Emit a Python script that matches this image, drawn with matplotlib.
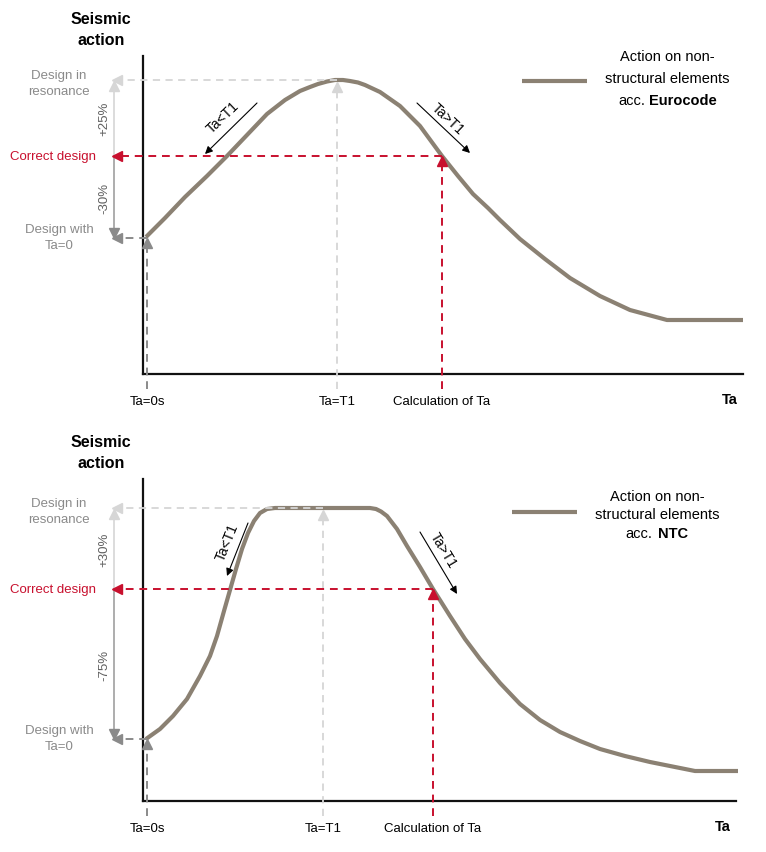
import numpy as np
import matplotlib.pyplot as plt

plt.rcParams['font.family'] = ['Liberation Sans', 'DejaVu Sans']

# curva eurocode (Ta, accion), unidades arbitrarias del esquema
ec_ta = [3, 22, 42, 64, 84, 104, 124, 142, 157, 167, 175, 184, 192, 200, 207, 215, 222,
         237, 257, 277, 299, 315, 330, 345, 357, 377, 402, 427, 457, 487, 524, 600]
ec_sa = [137, 156, 177, 198, 218, 239, 260, 274, 283, 287, 290, 292.5, 294, 294, 293, 291.5, 289,
         282, 268, 248, 218, 198, 180, 166, 154, 135, 115, 96, 78, 64, 54, 54]

# curva ntc
ntc_ta = [3, 17, 30, 44, 57, 67, 74, 81, 87, 93, 99, 105, 111, 117, 124, 132, 227,
          233, 238, 244, 254, 264, 277, 290, 307, 322, 337, 357, 377, 397, 417, 437, 457,
          482, 507, 532, 552, 595]
ntc_sa = [62, 72, 85, 102, 125, 145, 165, 190, 211, 232, 252, 268, 280, 288, 292, 293, 293,
          292, 289.5, 285, 272, 255, 234, 212, 185, 162, 142, 118, 97, 81, 69, 60, 52,
          45, 39, 34, 30, 30]

# niveles de referencia: (Ta=0, T1, Ta calculado) y (accion Ta=0, correcta, resonancia)
ec_t = [4, 194, 299]
ec_lvl = [136, 218, 294]
ntc_t = [4, 180, 290]
ntc_lvl = [62, 212, 293]

ec_pct = ["+25%", "-30%"]
ntc_pct = ["+30%", "-75%"]
tick_labels = ["Ta=0s", "Ta=T1", "Calculation of Ta"]

CURVE = '#8b8173'
LIGHT = '#d6d6d6'
GRAY = '#8a8a8a'
RED = '#c8102e'

W, H = 766, 853
fig = plt.figure(figsize=(W / 100, H / 100), dpi=100)


def panel(box, ta, sa, t, lvl, pct, code, legend_pos, arrows):
    left, top, right, bottom = box
    ax = fig.add_axes([left / W, 1 - bottom / H, (right - left) / W, (bottom - top) / H])
    ax.set_xlim(0, right - left)
    ax.set_ylim(0, bottom - top)
    for s in ['top', 'right']:
        ax.spines[s].set_visible(False)
    for s in ['left', 'bottom']:
        ax.spines[s].set_linewidth(1.6)
        ax.spines[s].set_color('#111111')
    ax.set_xticks([])
    ax.set_yticks([])
    ax.patch.set_alpha(0)

    t0, t1, tc = t
    y0, yc, yr = lvl
    xm = -29
    dash = (0, (4, 3))

    # curva
    ax.plot(ta, sa, color=CURVE, lw=3, solid_capstyle='butt', solid_joinstyle='round',
            zorder=3, clip_on=False)

    # lineas de resonancia
    ax.plot([t1, xm + 2], [yr, yr], color=LIGHT, lw=1.3, ls=dash, zorder=4, clip_on=False)
    ax.plot([t1, t1], [-15, yr - 6], color=LIGHT, lw=1.3, ls=dash, zorder=4, clip_on=False)
    ax.plot([xm + 3], [yr], marker='<', ms=7, color=LIGHT, clip_on=False, zorder=5)
    ax.plot([t1], [yr - 7], marker='^', ms=7, color=LIGHT, clip_on=False, zorder=5)

    # diseno correcto
    ax.plot([tc, xm + 2], [yc, yc], color=RED, lw=1.4, ls=dash, zorder=4, clip_on=False)
    ax.plot([tc, tc], [-15, yc - 6], color=RED, lw=1.4, ls=dash, zorder=4, clip_on=False)
    ax.plot([xm + 3], [yc], marker='<', ms=7, color=RED, clip_on=False, zorder=5)
    ax.plot([tc], [yc - 5], marker='^', ms=7, color=RED, clip_on=False, zorder=5)

    # diseno con Ta=0
    ax.plot([t0, xm + 2], [y0, y0], color=GRAY, lw=1.4, ls=dash, zorder=4, clip_on=False)
    ax.plot([t0, t0], [-15, y0 - 6], color=GRAY, lw=1.4, ls=dash, zorder=4, clip_on=False)
    ax.plot([xm + 3], [y0], marker='<', ms=7, color=GRAY, clip_on=False, zorder=5)
    ax.plot([t0], [y0 - 5], marker='^', ms=7, color=GRAY, clip_on=False, zorder=5)

    # cota vertical
    ax.plot([xm, xm], [yr - 6, yc], color=LIGHT, lw=1.2, clip_on=False)
    ax.plot([xm, xm], [yc, y0 + 6], color='#a0a0a0', lw=1.2, clip_on=False)
    ax.plot([xm], [yr - 6], marker='^', ms=7, color=LIGHT, clip_on=False)
    ax.plot([xm], [y0 + 5], marker='v', ms=7, color=GRAY, clip_on=False)
    ax.text(xm - 10, (yr + yc) / 2, pct[0], rotation=90, ha='center', va='center',
            fontsize=9.5, color='#606060')
    ax.text(xm - 10, (yc + y0) / 2, pct[1], rotation=90, ha='center', va='center',
            fontsize=9.5, color='#606060')

    # textos a la izquierda
    ax.text(-84, yr - 3, "Design in\nresonance", ha='center', va='center', fontsize=9.5,
            color=GRAY, linespacing=1.35)
    ax.text(-47, yc, "Correct design", ha='right', va='center', fontsize=9.5, color=RED)
    ax.text(-84, y0 + 1, "Design with\nTa=0", ha='center', va='center', fontsize=9.5,
            color=GRAY, linespacing=1.35)
    ax.text(-42, (bottom - top) + 27, "Seismic\naction", ha='center', va='center',
            fontsize=11.5, fontweight='bold', linespacing=1.55)

    # etiquetas del eje x
    for x, lab in zip(t, tick_labels):
        ax.text(x, -27, lab, ha='center', va='center', fontsize=9.5)
    ax.text(right - left - 13, -25, "Ta", ha='center', va='center', fontsize=10.5,
            fontweight='bold')

    # flechas Ta<T1 / Ta>T1
    for (xa, ya, xb, yb, xt, yt, rot, lab) in arrows:
        ax.annotate("", xy=(xb, yb), xytext=(xa, ya), annotation_clip=False,
                    arrowprops=dict(arrowstyle='-|>', color='black', lw=0.8,
                                    mutation_scale=11, shrinkA=0, shrinkB=0))
        ax.text(xt, yt, lab, rotation=rot, rotation_mode='anchor', ha='center',
                va='center', fontsize=10)

    # leyenda
    lx0, lx1, ly, tx, ty, acc_r, bold_l = legend_pos
    ax.plot([lx0, lx1], [ly, ly], color=CURVE, lw=3, solid_capstyle='butt', clip_on=False)
    ax.text(tx, ty[0], "Action on non-", ha='center', va='center', fontsize=10.5)
    ax.text(tx, ty[1], "structural elements", ha='center', va='center', fontsize=10.5)
    ax.text(acc_r, ty[2], "acc.", ha='right', va='center', fontsize=10.5)
    ax.text(bold_l, ty[2], code, ha='left', va='center', fontsize=10.5, fontweight='bold')
    return ax


# panel superior: eurocode
panel((143, 57, 743, 375), ec_ta, ec_sa, ec_t, ec_lvl, ec_pct, "Eurocode",
      (379, 444, 293, 524, (318, 296, 274), 502, 506),
      [(114, 271, 62, 220, 80, 257, 44, "Ta<T1"),
       (274, 271, 327, 221, 305, 256, -43, "Ta>T1")])

# panel inferior: ntc
panel((143, 480, 736, 802), ntc_ta, ntc_sa, ntc_t, ntc_lvl, ntc_pct, "NTC",
      (369, 434, 289, 514, (305, 287, 268), 509, 515),
      [(105, 278, 84, 225, 84, 260, 68, "Ta<T1"),
       (277, 269, 314, 207, 300, 251, -59, "Ta>T1")])

fig.savefig("out.png", dpi=100)
